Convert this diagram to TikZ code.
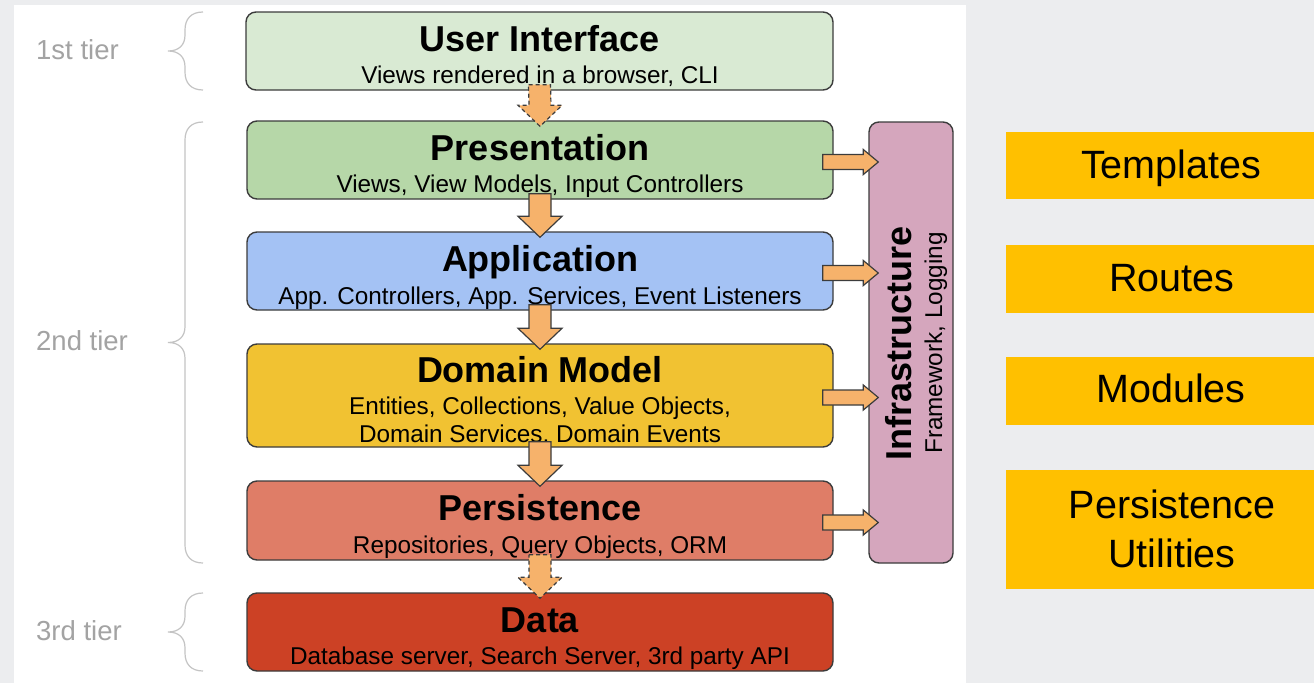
\documentclass[tikz,border=0pt]{standalone}
\usepackage{fontspec}
\setmainfont{Liberation Sans}
\usetikzlibrary{calc}

\definecolor{pagebg}{HTML}{ECEDEF}
\definecolor{edge}{HTML}{3C3C3C}
\definecolor{uicol}{HTML}{D9EAD3}
\definecolor{prescol}{HTML}{B6D7A8}
\definecolor{appcol}{HTML}{A4C2F4}
\definecolor{domcol}{HTML}{F1C232}
\definecolor{perscol}{HTML}{DF7D67}
\definecolor{datacol}{HTML}{CC4125}
\definecolor{infracol}{HTML}{D5A6BD}
\definecolor{arrowfill}{HTML}{F6B26B}
\definecolor{noteyellow}{HTML}{FFC000}
\definecolor{tiergray}{HTML}{A3A3A3}
\definecolor{bracegray}{HTML}{C4C4C4}

% vertical block arrow from the bottom of #2 into the top of #3
\newcommand\downblock[3][]{%
  \draw[blockarr,#1]
    ($(#2.south)+(-11,-6)$) -- ($(#2.south)+(11,-6)$) --
    ($(#3.north)+(11,-15)$) -- ($(#3.north)+(22,-15)$) --
    ($(#3.north)+(0,6)$) --
    ($(#3.north)+(-22,-15)$) -- ($(#3.north)+(-11,-15)$) -- cycle;}

% horizontal block arrow from the right side of #1 into the left side of #2
\newcommand\sideblock[2]{%
  \draw[blockarr]
    ($(#1.east)+(-11,-5.5)$) -- ($(#2.west |- #1.east)+(-5,-5.5)$) --
    ($(#2.west |- #1.east)+(-5,-10.5)$) --
    ($(#2.west |- #1.east)+(10,2)$) --
    ($(#2.west |- #1.east)+(-5,14.5)$) --
    ($(#2.west |- #1.east)+(-5,9.5)$) -- ($(#1.east)+(-11,9.5)$) -- cycle;}

% curly brace opening to the right, from y=#1 to y=#2
\newcommand\tierbrace[2]{%
  \pgfmathsetmacro\bmid{(#1+#2)/2}%
  \draw[bracestyle]
    (203,#1) .. controls (191,#1) and (185,{#1+7}) .. (185,{#1+18})
    -- (185,{\bmid-16}) .. controls (185,{\bmid-6}) and (179,\bmid) .. (168,\bmid)
    .. controls (179,\bmid) and (185,{\bmid+6}) .. (185,{\bmid+16})
    -- (185,{#2-18}) .. controls (185,{#2-7}) and (191,#2) .. (203,#2);}

\begin{document}
\begin{tikzpicture}[x=1pt,y=-1pt,
  layer/.style={draw=edge, line width=1.4pt, rounded corners=10pt, inner sep=0pt},
  ttl/.style={font=\fontsize{36}{40}\selectfont\bfseries, inner sep=0pt, anchor=base},
  subt/.style={font=\fontsize{24.3}{28}\selectfont, inner sep=0pt, anchor=base},
  tier/.style={font=\fontsize{27.5}{30}\selectfont, text=tiergray, inner sep=0pt, anchor=base west},
  stickynote/.style={fill=noteyellow, minimum width=308pt, inner sep=0pt},
  notetext/.style={font=\fontsize{39.5}{42}\selectfont, inner sep=0pt, anchor=base},
  blockarr/.style={draw=edge, fill=arrowfill, line width=1.2pt, line join=miter},
  dashline/.style={dash pattern=on 4pt off 3pt},
  bracestyle/.style={draw=bracegray, line width=1.2pt}
]
\useasboundingbox (0,0) rectangle (1314,683);
\fill[pagebg] (0,0) rectangle (1314,683);
\fill[white] (14,5) rectangle (966,683);

% tiers
\node[tier] (tier1) at (36,59) {1st tier};
\node[tier] (tier2) at (36,350) {2nd tier};
\node[tier] (tier3) at (36,640) {3rd tier};
\tierbrace{12}{90}
\tierbrace{122}{563}
\tierbrace{593}{671}

% layers
\node[layer, fill=uicol, minimum width=587pt, minimum height=78pt] (ui) at (539.5,51) {};
\node[layer, fill=prescol, minimum width=586pt, minimum height=78pt] (pres) at (540,160) {};
\node[layer, fill=appcol, minimum width=586pt, minimum height=78pt] (app) at (540,271) {};
\node[layer, fill=domcol, minimum width=586pt, minimum height=103pt] (dom) at (540,395.5) {};
\node[layer, fill=perscol, minimum width=586pt, minimum height=79pt] (pers) at (540,520.5) {};
\node[layer, fill=datacol, minimum width=586pt, minimum height=78pt] (data) at (540,632) {};
\node[layer, fill=infracol, minimum width=84pt, minimum height=441pt] (infra) at (911,342.5) {};

\node[ttl] (uiT) at (540,51) {User Interface};
\node[subt] (uiS) at (540,83) {Views rendered in a browser, CLI};
\node[ttl] (presT) at (540,160) {Presentation};
\node[subt] (presS) at (540,192) {Views, View Models, Input Controllers};
\node[ttl] (appT) at (540,271) {Application};
\node[subt] (appS) at (540,304) {App. Controllers, App. Services, Event Listeners};
\node[ttl] (domT) at (540,382) {Domain Model};
\node[subt] (domS1) at (540,414) {Entities, Collections, Value Objects,};
\node[subt] (domS2) at (540,442) {Domain Services, Domain Events};
\node[ttl] (persT) at (540,520) {Persistence};
\node[subt] (persS) at (540,553) {Repositories, Query Objects, ORM};
\node[ttl] (dataT) at (540,632) {Data};
\node[subt] (dataS) at (540,664) {Database server, Search Server, 3rd party API};
\node[ttl, rotate=90] (infraT) at (911,343) {Infrastructure};
\node[subt, rotate=90] (infraS) at (942,343) {Framework, Logging};

% flow between layers
\downblock[dashline]{ui}{pres}
\downblock{pres}{app}
\downblock{app}{dom}
\downblock{dom}{pers}
\downblock[dashline]{pers}{data}

% infrastructure serves the second tier
\sideblock{pres}{infra}
\sideblock{app}{infra}
\sideblock{dom}{infra}
\sideblock{pers}{infra}

% notes on the right
\node[stickynote, minimum height=67pt] (tpl) at (1160,165.5) {};
\node[stickynote, minimum height=68pt] (rts) at (1160,279) {};
\node[stickynote, minimum height=68pt] (mods) at (1160,391) {};
\node[stickynote, minimum height=119pt] (putil) at (1160,529.5) {};
\node[notetext] (tplT) at (1171,178.5) {Templates};
\node[notetext] (rtsT) at (1172,291.5) {Routes};
\node[notetext] (modsT) at (1171,402.5) {Modules};
\node[notetext] (putilT1) at (1172,518) {Persistence};
\node[notetext] (putilT2) at (1172,567) {Utilities};
\end{tikzpicture}
\end{document}
